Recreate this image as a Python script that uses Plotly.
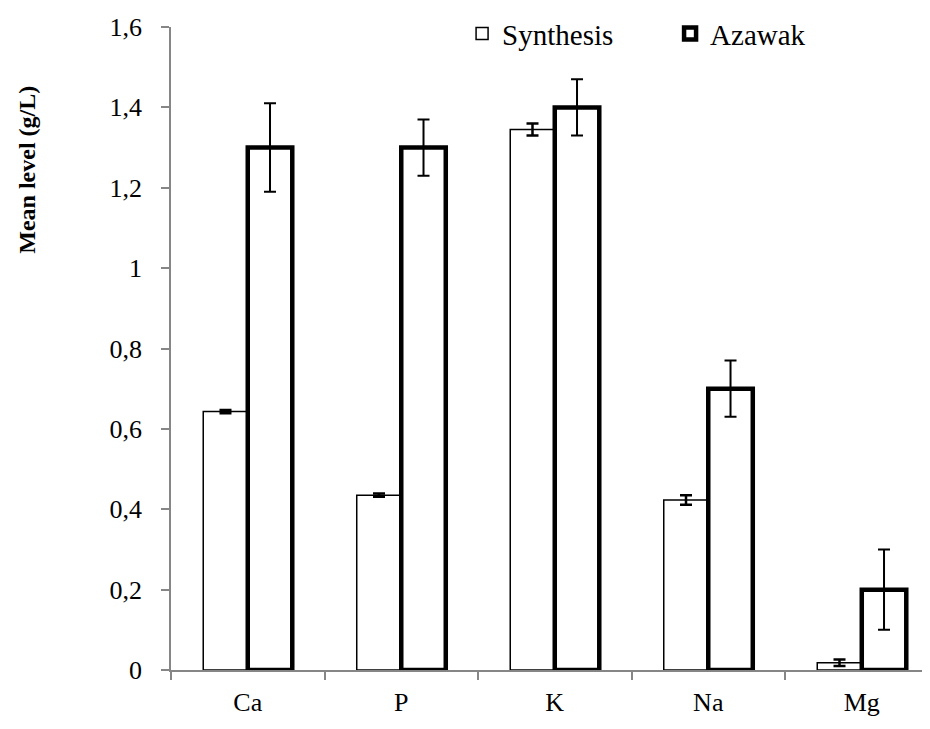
import plotly.graph_objects as go

categories = ["Ca", "P", "K", "Na", "Mg"]
synthesis = [0.643, 0.435, 1.345, 0.423, 0.018]
synthesis_err = [0.004, 0.004, 0.015, 0.012, 0.008]
azawak = [1.3, 1.3, 1.4, 0.7, 0.2]
azawak_err = [0.11, 0.07, 0.07, 0.07, 0.1]

FONT = "Liberation Serif, Times New Roman, serif"
AXIS_GRAY = "#868686"

fig = go.Figure()
fig.add_trace(go.Bar(
    name="Synthesis", x=categories, y=synthesis,
    marker=dict(color="white", line=dict(color="black", width=1.5)),
    error_y=dict(type="data", array=synthesis_err, color="black", thickness=2.5, width=6),
))
fig.add_trace(go.Bar(
    name="Azawak", x=categories, y=azawak,
    marker=dict(color="white", line=dict(color="black", width=4.5)),
    error_y=dict(type="data", array=azawak_err, color="black", thickness=2, width=6),
))

# page body has an 8px margin: size the figure so the plot lands where the reference has it
fig.update_layout(
    width=922, height=713,
    margin=dict(l=163, r=1, t=18, b=51),
    paper_bgcolor="white", plot_bgcolor="white",
    barmode="group", bargap=0.42, bargroupgap=0,
    separators=",.",
    font=dict(family=FONT, size=26, color="black"),
    showlegend=True,
    legend=dict(orientation="h", x=0.384, y=0.988, xanchor="left", yanchor="middle",
                font=dict(family=FONT, size=29, color="black"),
                bgcolor="rgba(0,0,0,0)", entrywidth=163, entrywidthmode="pixels",
                itemwidth=30),
    xaxis=dict(
        range=[-0.5, 4.438], showline=True, linecolor=AXIS_GRAY, linewidth=1.5,
        ticks="outside", tickson="boundaries", ticklen=8, tickcolor=AXIS_GRAY, tickwidth=1.5,
        showgrid=False, zeroline=False, ticklabelstandoff=8, automargin=False,
        tickfont=dict(family=FONT, size=26, color="black"),
    ),
    yaxis=dict(
        range=[0, 1.6], dtick=0.2, showline=True, linecolor=AXIS_GRAY, linewidth=1.5,
        ticks="outside", ticklen=8, tickcolor=AXIS_GRAY, tickwidth=1.5,
        showgrid=False, zeroline=False, ticklabelstandoff=14, automargin=False,
        tickfont=dict(family=FONT, size=26, color="black"),
    ),
    annotations=[dict(
        text="<b>Mean level (g/L)</b>", textangle=-90,
        xref="paper", yref="paper", x=0, y=0.778, xanchor="center", yanchor="middle",
        xshift=-144, showarrow=False,
        font=dict(family=FONT, size=24, color="black"),
    )],
)

fig.write_html("out.html")
